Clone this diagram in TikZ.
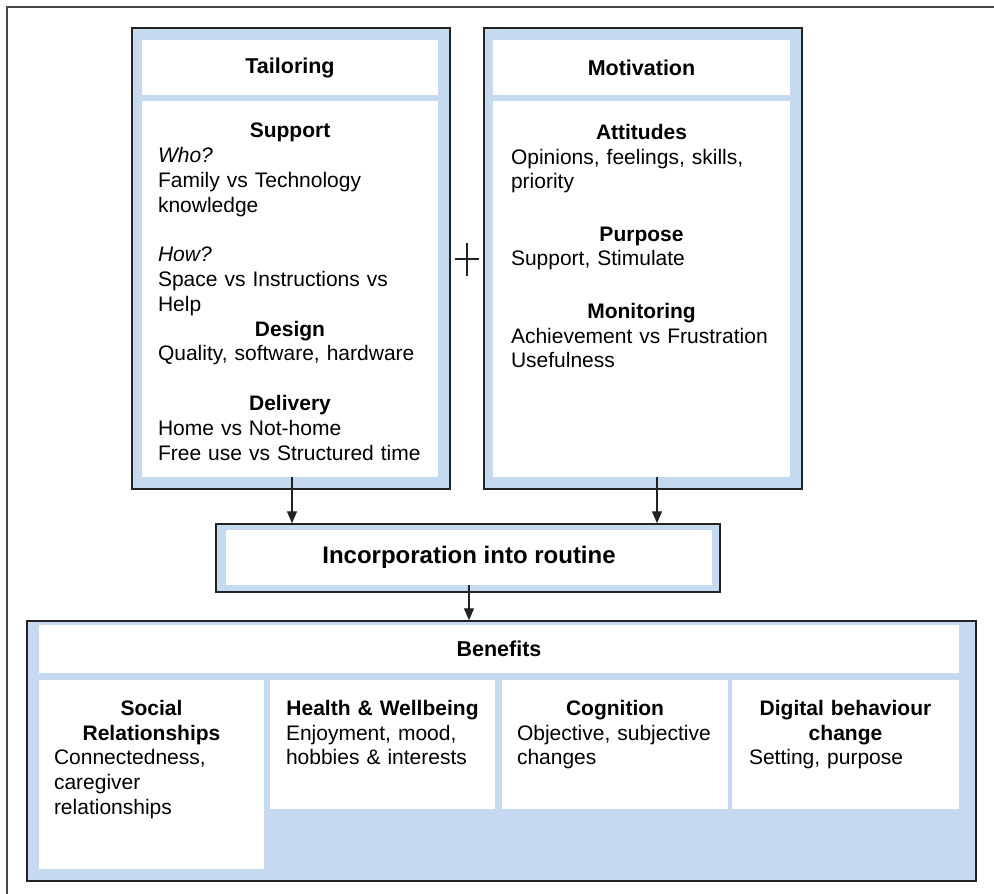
\documentclass[tikz,border=0pt]{standalone}
\usepackage{fontspec}
\setmainfont{Liberation Sans}
\usetikzlibrary{arrows.meta}
\definecolor{boxBlue}{RGB}{197, 217, 241}
\definecolor{frameGray}{RGB}{70, 70, 70}
\definecolor{lineDark}{RGB}{35, 35, 35}
\newcommand{\hd}[1]{\makebox[\linewidth]{\bfseries #1}}

\begin{document}
\begin{tikzpicture}[x=1pt, y=-1pt,
    outerbox/.style={draw=lineDark, line width=1.5pt, fill=boxBlue, inner sep=0pt},
    whitebox/.style={fill=white, inner sep=0pt},
    headtext/.style={font=\fontsize{21.5}{24}\selectfont\bfseries},
    bodytext/.style={inner sep=0pt, align=left, anchor=north west, font=\fontsize{21}{24.8}\selectfont},
    arr/.style={line width=1.4pt, draw=lineDark, -{Triangle[length=12pt, width=10pt]}}]
  \useasboundingbox (0,0) rectangle (994,894);
  % cropped frame
  \draw[frameGray, line width=2.5pt] (7,894) -- (7,7) -- (994,7);

  % Tailoring
  \node[outerbox, minimum width=318, minimum height=461] (tailOuter) at (291,258.5) {};
  \node[whitebox, minimum width=296, minimum height=55, headtext] (tailHead) at (290,67.5) {Tailoring};
  \node[whitebox, minimum width=296, minimum height=376] (tailBody) at (290,289) {};
  \node[bodytext, text width=264] (tailText) at ([xshift=16pt, yshift=-22pt]tailBody.north west) {%
    \hd{Support}\\
    \textit{Who?}\\
    Family vs Technology\\
    knowledge\\[24.8pt]
    \textit{How?}\\
    Space vs Instructions vs\\
    Help\\
    \hd{Design}\\
    Quality, software, hardware\\[24.8pt]
    \hd{Delivery}\\
    Home vs Not-home\\
    Free use vs Structured time};

  % Motivation
  \node[outerbox, minimum width=318, minimum height=461] (motOuter) at (643,258.5) {};
  \node[whitebox, minimum width=297, minimum height=55, headtext] (motHead) at (641.5,67.5) {Motivation};
  \node[whitebox, minimum width=297, minimum height=376] (motBody) at (641.5,289) {};
  \node[bodytext, text width=261] (motText) at ([xshift=18pt, yshift=-23pt]motBody.north west) {%
    \hd{Attitudes}\\
    Opinions, feelings, skills,\\
    priority\\[27.5pt]
    \hd{Purpose}\\
    Support, Stimulate\\[27.5pt]
    \hd{Monitoring}\\
    Achievement vs Frustration\\
    Usefulness};

  \draw[lineDark, line width=1.5pt] (467,243) -- (467,276) (455,259) -- (479,259);

  % Incorporation
  \node[outerbox, minimum width=504, minimum height=68] (incOuter) at (468,558) {};
  \node[whitebox, minimum width=486, minimum height=55, font=\fontsize{24}{28}\selectfont\bfseries] (incInner) at (469,557.5) {Incorporation into routine};

  % Benefits
  \node[outerbox, minimum width=949, minimum height=260] (benOuter) at (501.5,751) {};
  \node[whitebox, minimum width=920, minimum height=48, headtext] (benHead) at (499,649) {Benefits};
  \node[whitebox, minimum width=225, minimum height=189] (social) at (151.5,774.5) {};
  \node[whitebox, minimum width=225, minimum height=129] (health) at (382.5,744.5) {};
  \node[whitebox, minimum width=226, minimum height=129] (cognition) at (615,744.5) {};
  \node[whitebox, minimum width=227, minimum height=129] (digital) at (845.5,744.5) {};
  \node[bodytext, text width=195] at ([xshift=15pt, yshift=-20pt]social.north west) {%
    \hd{Social}\\
    \hd{Relationships}\\
    Connectedness,\\
    caregiver\\
    relationships};
  \node[bodytext, text width=193] at ([xshift=16pt, yshift=-20pt]health.north west) {%
    \hd{Health \& Wellbeing}\\
    Enjoyment, mood,\\
    hobbies \& interests};
  \node[bodytext, text width=196] at ([xshift=15pt, yshift=-20pt]cognition.north west) {%
    \hd{Cognition}\\
    Objective, subjective\\
    changes};
  \node[bodytext, text width=193] at ([xshift=17pt, yshift=-20pt]digital.north west) {%
    \hd{Digital behaviour}\\
    \hd{change}\\
    Setting, purpose};

  % arrows
  \draw[arr] ([xshift=2pt]tailBody.south) -- ([xshift=2pt]tailBody.south |- incOuter.north);
  \draw[arr] ([xshift=15.5pt]motBody.south) -- ([xshift=15.5pt]motBody.south |- incOuter.north);
  \draw[arr] (incInner.south) -- (incInner.south |- benOuter.north);
\end{tikzpicture}
\end{document}
